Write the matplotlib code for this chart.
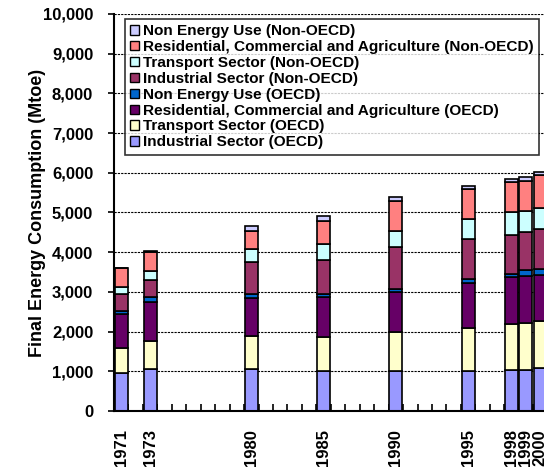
import matplotlib
matplotlib.use("Agg")
import matplotlib.pyplot as plt
from matplotlib.ticker import FuncFormatter, FixedLocator
from matplotlib.patches import Patch

plt.rcParams['font.family'] = ['Liberation Sans', 'DejaVu Sans']
plt.rcParams['font.weight'] = 'bold'

# years shown and the category axis they sit on
years = [1971, 1973, 1980, 1985, 1990, 1995, 1998, 1999, 2000]
first_year = 1971
last_year = 2000

# Mtoe (bottom to top of each stack)
ind_oecd = [960, 1050, 1060, 1010, 1010, 1000, 1040, 1040, 1080]
trans_oecd = [630, 720, 840, 850, 970, 1080, 1140, 1180, 1190]
res_oecd = [850, 970, 940, 1000, 1010, 1140, 1190, 1180, 1160]
ne_oecd = [80, 120, 110, 90, 90, 100, 70, 140, 150]
ind_non = [420, 445, 790, 850, 1060, 1010, 1000, 960, 1000]
trans_non = [190, 215, 340, 410, 400, 500, 560, 540, 540]
res_non = [470, 485, 460, 580, 750, 750, 775, 750, 830]
ne_non = [10, 15, 115, 110, 110, 85, 75, 110, 75]

series = [
    ("Industrial Sector (OECD)", ind_oecd, "#9999FF"),
    ("Transport Sector (OECD)", trans_oecd, "#FFFFCC"),
    ("Residential, Commercial and Agriculture (OECD)", res_oecd, "#660066"),
    ("Non Energy Use (OECD)", ne_oecd, "#0066CC"),
    ("Industrial Sector (Non-OECD)", ind_non, "#993366"),
    ("Transport Sector (Non-OECD)", trans_non, "#CCFFFF"),
    ("Residential, Commercial and Agriculture (Non-OECD)", res_non, "#FF8080"),
    ("Non Energy Use (Non-OECD)", ne_non, "#CCCCFF"),
]

fig = plt.figure(figsize=(5.44, 4.71), dpi=100)
ax = fig.add_axes([0.2096, 0.1274, 0.797, 0.843])

pos = [y - first_year for y in years]
bottom = [0] * len(years)
for name, vals, col in series:
    ax.bar(pos, vals, bottom=bottom, width=0.9, color=col, edgecolor='black',
           linewidth=1.2, zorder=3)
    bottom = [b + v for b, v in zip(bottom, vals)]

ax.set_xlim(-0.5, last_year - first_year + 0.5)
ax.set_ylim(0, 10000)

# y axis
ax.set_yticks(range(0, 10001, 1000))
ax.yaxis.set_major_formatter(FuncFormatter(lambda v, p: f"{int(v):,}"))
ax.tick_params(axis='y', labelsize=12, length=4, width=1.2, direction='out', pad=11)
ax.set_ylabel("Final Energy Consumption (Mtoe)", fontsize=13, fontweight='bold', labelpad=-2)
ax.yaxis.grid(True, color='black', linestyle=(0, (2, 1)), linewidth=0.8, zorder=0)

# x axis: labels at bar centres, tick marks at category boundaries
ax.xaxis.set_major_locator(FixedLocator(pos))
ax.set_xticklabels([str(y) for y in years], rotation=90, fontsize=12, va='top')
ax.tick_params(axis='x', which='major', length=0, pad=13)
ax.xaxis.set_minor_locator(FixedLocator([i + 0.5 for i in range(last_year - first_year)]))
ax.tick_params(axis='x', which='minor', length=5, width=1.2, direction='in')

for s in ['top', 'right']:
    ax.spines[s].set_visible(False)
for s in ['left', 'bottom']:
    ax.spines[s].set_linewidth(1.5)
    ax.spines[s].set_zorder(4)

handles = [Patch(facecolor=c, edgecolor='black', linewidth=1.0, label=n) for n, v, c in series][::-1]
leg = fig.legend(handles=handles, loc='upper left', bbox_to_anchor=(125 / 544, 1 - 19 / 471),
                 fontsize=11.1, frameon=True, fancybox=False, handlelength=0.55, handleheight=0.55,
                 handletextpad=0.25, labelspacing=0.12, borderpad=0.35, borderaxespad=0)
leg.get_frame().set_edgecolor('black')
leg.get_frame().set_linewidth(1.2)
for t in leg.get_texts():
    t.set_fontweight('bold')

fig.savefig("out.png", dpi=100)
